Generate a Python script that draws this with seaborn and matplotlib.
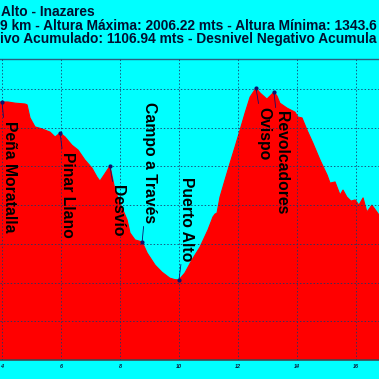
import numpy as np
import pandas as pd
import matplotlib
matplotlib.use("Agg")
import matplotlib.pyplot as plt
import seaborn as sns

# ---- data (distance km, altitude m) ----
dist_km = [3.93, 4.00, 4.20, 4.44, 4.78, 4.85, 4.95, 5.12, 5.36, 5.63, 5.80, 5.97,
           6.14, 6.37, 6.58, 6.81, 7.05, 7.22, 7.32, 7.46, 7.66, 7.83, 8.00, 8.24,
           8.34, 8.51, 8.75, 8.92, 9.19, 9.42, 9.69, 9.86, 10.00, 10.20, 10.44, 10.71,
           10.98, 11.15, 11.22, 11.29, 11.39, 11.56, 11.73, 11.90, 12.07, 12.24, 12.41,
           12.61, 12.75, 12.98, 13.22, 13.32, 13.42, 13.66, 13.93, 14.03, 14.17, 14.34,
           14.54, 14.78, 15.02, 15.12, 15.29, 15.46, 15.56, 15.69, 15.83, 15.97, 16.10,
           16.24, 16.37, 16.54, 16.78, 17.00]
altitude_m = [1958, 1958, 1958, 1954, 1951, 1948, 1903, 1872, 1865, 1854, 1837, 1851,
              1837, 1809, 1792, 1758, 1730, 1699, 1685, 1706, 1737, 1654, 1609, 1551,
              1506, 1482, 1475, 1437, 1395, 1371, 1350, 1345, 1344, 1368, 1413, 1457,
              1516, 1561, 1571, 1575, 1630, 1689, 1747, 1803, 1861, 1920, 1975,
              2006, 1989, 1968, 1992, 1979, 1954, 1937, 1923, 1906, 1903, 1861,
              1816, 1758, 1706, 1678, 1682, 1637, 1654, 1630, 1616, 1620, 1602,
              1627, 1578, 1602, 1568, 1560]

waypoint_names = ["Peña Moratalla", "Pinar Llano", "Desvío", "Campo a Través",
                  "Puerto Alto", "Ovispo", "Revolcadores"]
waypoint_km = [4.00, 5.97, 7.66, 8.75, 10.00, 12.61, 13.22]
waypoint_alt = [1958, 1851, 1737, 1475, 1344, 2006, 1992]
waypoint_side = ["below", "below", "below", "above", "above", "below", "below"]

title_lines = ["Alto - Inazares",
               "9 km - Altura Máxima: 2006.22 mts - Altura Mínima: 1343.6",
               "ivo Acumulado: 1106.94 mts - Desnivel Negativo Acumula"]
x_ticks = [4, 6, 8, 10, 12, 14, 16]

# ---- figure ----
sns.set_theme(style="white")
plt.rcParams["font.family"] = ["Liberation Sans", "DejaVu Sans"]

W = H = 379
fig = plt.figure(figsize=(W / 100, H / 100), dpi=100)
CYAN = "#00FFFF"
RED = "#FF0000"
fig.patch.set_facecolor(CYAN)

ax_top_px, ax_bot_px = 59, 360
ax = fig.add_axes([0, 1 - ax_bot_px / H, 1, (ax_bot_px - ax_top_px) / H])
ax.set_facecolor(CYAN)

df = pd.DataFrame({"km": dist_km, "alt": altitude_m})
ymin, ymax = 1067.6, 2106.3
ax.fill_between(df["km"], df["alt"], ymin - 50, color=RED, linewidth=0, zorder=1)
sns.lineplot(data=df, x="km", y="alt", color=RED, linewidth=0.8, ax=ax, zorder=2)

ax.set_xlim(3.9322, 16.7797)
ax.set_ylim(ymin, ymax)
step = 133.55
ax.set_yticks([ymin + k * step for k in range(8)])
ax.set_xticks(x_ticks)
ax.set_xticklabels([str(t) for t in x_ticks], fontsize=4, fontweight="bold",
                   fontstyle="italic", color="#0a2040")
ax.tick_params(axis="x", length=0, pad=3)
ax.tick_params(axis="y", length=0, labelleft=False)
ax.set_xlabel("")
ax.set_ylabel("")
ax.grid(True, linestyle=(0, (1.5, 2)), color="#1a3a6a", linewidth=0.7, alpha=0.85)
ax.set_axisbelow(False)
for s in ["left", "right"]:
    ax.spines[s].set_visible(False)
ax.spines["top"].set_color("#2a6080")
ax.spines["top"].set_linewidth(1.0)
ax.spines["bottom"].set_color("#404850")
ax.spines["bottom"].set_linewidth(1.2)

# waypoints
wp = pd.DataFrame({"km": waypoint_km, "alt": waypoint_alt})
sns.scatterplot(data=wp, x="km", y="alt", color="#10106a", s=9, linewidth=0,
                ax=ax, zorder=5)
ax.set_xlabel("")
ax.set_ylabel("")

for name, xk, ya, side in zip(waypoint_names, waypoint_km, waypoint_alt, waypoint_side):
    off = 13.5
    if side == "below":
        ax.annotate(name, xy=(xk, ya), xytext=(0, -off), textcoords="offset points",
                    rotation=-90, ha="left", va="top", fontsize=11.3,
                    fontweight="bold", color="black", zorder=6,
                    arrowprops=dict(arrowstyle="-", color="#10106a", lw=0.6,
                                    shrinkA=0, shrinkB=0))
    else:
        ax.annotate(name, xy=(xk, ya), xytext=(0, off), textcoords="offset points",
                    rotation=-90, ha="left", va="bottom", fontsize=11.3,
                    fontweight="bold", color="black", zorder=6,
                    arrowprops=dict(arrowstyle="-", color="#10106a", lw=0.6,
                                    shrinkA=0, shrinkB=0))

# title lines (partially visible)
baselines = [16, 29.5, 42.5]
lefts = [1, 0, 0]
for txt, b, l in zip(title_lines, baselines, lefts):
    fig.text(l / W, 1 - b / H, txt, ha="left", va="baseline", fontsize=9.9,
             fontweight="bold", color="#001030")

fig.savefig("out.png", dpi=100, facecolor=CYAN)
